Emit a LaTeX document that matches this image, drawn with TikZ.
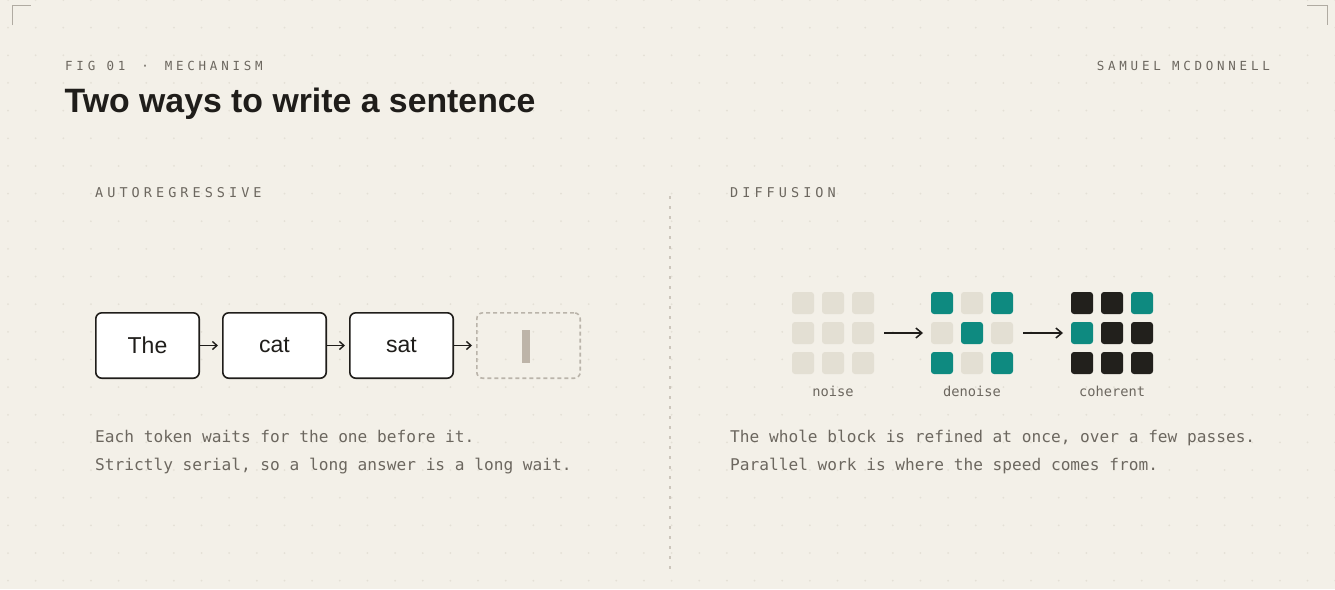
\documentclass[tikz,border=0pt]{standalone}
\usepackage{fontspec}
\usetikzlibrary{calc,positioning,arrows.meta}

\newfontfamily\sansfont{Liberation Sans}
\newfontfamily\monofont{DejaVu Sans Mono}
\newfontfamily\spacedfont[LetterSpace=30]{DejaVu Sans Mono}
\newcommand\dotgap{\hspace{16pt}}

\definecolor{paper}{RGB}{243,240,232}
\definecolor{paperdot}{RGB}{228,224,214}
\definecolor{ink}{RGB}{31,29,26}
\definecolor{muted}{RGB}{108,103,95}
\definecolor{rulegray}{RGB}{204,198,188}
\definecolor{cornergray}{RGB}{176,171,162}
\definecolor{slotgray}{RGB}{186,180,170}
\definecolor{caretgray}{RGB}{189,180,168}
\definecolor{cgray}{RGB}{227,223,211}
\definecolor{cteal}{RGB}{14,138,128}
\definecolor{cink}{RGB}{34,32,28}

\tikzset{
  kicker/.style={inner sep=0, text=muted, font=\spacedfont\fontsize{12.5}{12.5}\selectfont},
  section/.style={inner sep=0, text=muted, font=\spacedfont\fontsize{13.5}{13.5}\selectfont},
  body/.style={inner sep=0, text=muted, font=\monofont\fontsize{16.15}{28}\selectfont},
  gridlabel/.style={inner sep=0, text=muted, font=\monofont\fontsize{13.7}{14}\selectfont},
  token/.style={draw=ink, fill=white, line width=1.6pt, rounded corners=6pt,
    minimum width=103.4pt, minimum height=65.4pt, inner sep=0, text=ink,
    font=\sansfont\fontsize{23}{23}\selectfont},
  slot/.style={draw=slotgray, line width=1.6pt, dash pattern=on 4pt off 3pt,
    rounded corners=6pt, minimum width=103.4pt, minimum height=65.4pt, inner sep=0},
  caret/.style={fill=caretgray, minimum width=8pt, minimum height=33pt, inner sep=0},
  cell/.style={minimum size=22pt, inner sep=0, outer sep=0, rounded corners=3pt},
  tokarrow/.style={ink, line width=1.4pt, -{Straight Barb[length=4.5pt,width=8pt]}, shorten >=4pt},
  gridarrow/.style={ink, line width=1.5pt, -{Straight Barb[length=6pt,width=10pt]},
    shorten <=10pt, shorten >=8pt},
  cornermark/.style={cornergray, line width=1pt},
  divider/.style={rulegray, line width=1.2pt, dash pattern=on 2.5pt off 7.5pt}
}

% one 3x3 block of cells, colours given row by row
\newcommand\drawgrid[3]{%
  \foreach \cc [count=\i from 0] in {#3} {
    \pgfmathtruncatemacro\cellrow{div(\i,3)+1}
    \pgfmathtruncatemacro\cellcol{mod(\i,3)+1}
    \node[cell, fill=\cc] (#1-\cellrow-\cellcol) at ({#2+30*\cellcol-19},{30*\cellrow+273}) {};
  }}

\begin{document}
\begin{tikzpicture}[x=1pt,y=-1pt]
        % paper
        \fill[paper] (0,0) rectangle (1335,589);
        \useasboundingbox (0,0) rectangle (1335,589);
        % faint dot grid
        \foreach \i in {0,...,48}
          \foreach \j in {0,...,21}
            \fill[paperdot] (8+27.65*\i,27.65*\j) circle (1);
        % corner marks
        \draw[cornermark] (12,25) -- (12,5) -- (31,5);
        \draw[cornermark] (1307,5) -- (1327,5) -- (1327,25);
        % header
        \node[kicker, anchor=base west] (fig) at (65,70) {FIG 01\dotgap·\dotgap MECHANISM};
        \node[kicker, anchor=base east] (author) at (1270,70) {SAMUEL MCDONNELL};
        \node[inner sep=0, anchor=base west, text=ink,
          font=\sansfont\bfseries\fontsize{33.8}{33.8}\selectfont] (title) at (64.5,112.5)
          {Two ways to write a sentence};
        % dotted divider between the halves
        \draw[divider] (670,196) -- (670,576);
        % section heads
        \node[section, anchor=base west] (ar-head) at (95,197) {AUTOREGRESSIVE};
        \node[section, anchor=base west] (df-head) at (730,197) {DIFFUSION};
        % tokens, one after another
        \node[token] (the) at (147.5,345.5) {The};
        \node[token, right=22pt of the] (cat) {cat};
        \node[token, right=22pt of cat] (sat) {sat};
        \node[slot, right=22pt of sat] (next) {};
        \node[caret] (caret) at ($(next.center)+(-3,0.5)$) {};
        \draw[tokarrow] (the) -- (cat);
        \draw[tokarrow] (cat) -- (sat);
        \draw[tokarrow] (sat) -- (next);
        % blocks refined at once
        \drawgrid{noise}{792}{cgray,cgray,cgray,cgray,cgray,cgray,cgray,cgray,cgray}
        \drawgrid{denoise}{931}{cteal,cgray,cteal,cgray,cteal,cgray,cteal,cgray,cteal}
        \drawgrid{coherent}{1071}{cink,cink,cteal,cteal,cink,cink,cink,cink,cink}
        \draw[gridarrow] (noise-2-3) -- (denoise-2-1);
        \draw[gridarrow] (denoise-2-3) -- (coherent-2-1);
        \node[gridlabel, anchor=base] (noise-lab) at ($(noise-3-2.south)+(0,22.5)$) {noise};
        \node[gridlabel, anchor=base] (denoise-lab) at ($(denoise-3-2.south)+(0,22.5)$) {denoise};
        \node[gridlabel, anchor=base] (coherent-lab) at ($(coherent-3-2.south)+(0,22.5)$) {coherent};
        % captions
        \node[body, anchor=base west] (ar-l1) at (95,442.3) {Each token waits for the one before it.};
        \node[body, anchor=base west] (ar-l2) at (95,470.3) {Strictly serial, so a long answer is a long wait.};
        \node[body, anchor=base west] (df-l1) at (730,442.3) {The whole block is refined at once, over a few passes.};
        \node[body, anchor=base west] (df-l2) at (730,470.3) {Parallel work is where the speed comes from.};
\end{tikzpicture}
\end{document}
